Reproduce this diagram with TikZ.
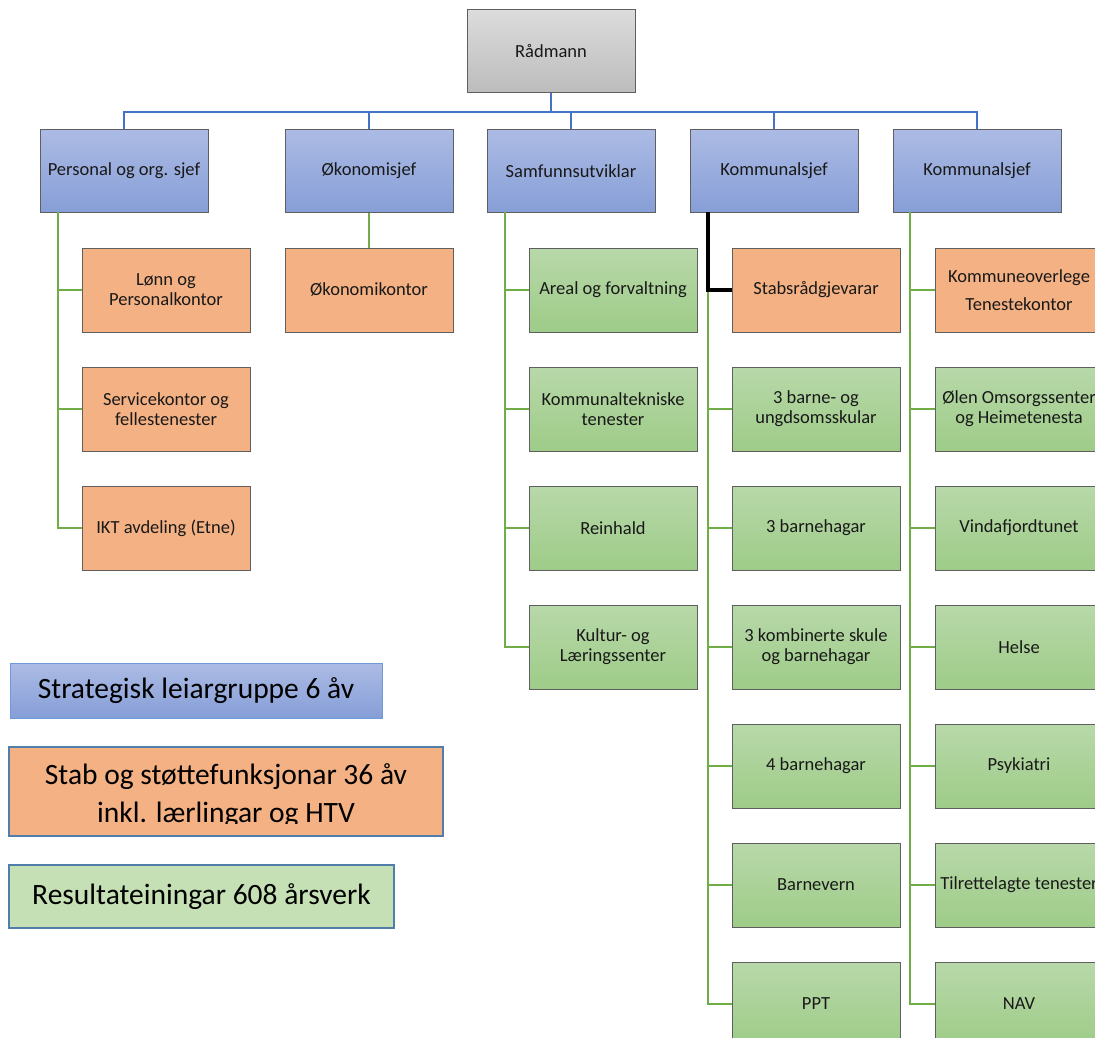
\documentclass[tikz,border=0pt]{standalone}
\usepackage{fontspec}
\setmainfont{Carlito}
\definecolor{blueTop}{RGB}{172,187,228}
\definecolor{blueBot}{RGB}{134,158,215}
\definecolor{grayTop}{RGB}{220,220,220}
\definecolor{grayBot}{RGB}{188,188,188}
\definecolor{orangeF}{RGB}{244,177,131}
\definecolor{greenTop}{RGB}{184,216,169}
\definecolor{greenBot}{RGB}{158,204,136}
\definecolor{legGreen}{RGB}{197,224,180}
\definecolor{boxLine}{RGB}{95,95,95}
\definecolor{blueLine}{RGB}{68,114,196}
\definecolor{greenLine}{RGB}{112,173,71}
\definecolor{legLine}{RGB}{80,125,170}
\definecolor{legLineA}{RGB}{110,155,215}
\tikzset{
  box/.style={rectangle, draw=boxLine, line width=1pt, minimum width=168pt, minimum height=83pt,
    inner sep=0pt, align=center, font=\fontsize{18.5}{20}\selectfont, text=black!90},
  bluebox/.style={box, top color=blueTop, bottom color=blueBot},
  graybox/.style={box, top color=grayTop, bottom color=grayBot},
  orangebox/.style={box, fill=orangeF, minimum height=84pt},
  greenbox/.style={box, top color=greenTop, bottom color=greenBot, minimum height=84pt},
  blueline/.style={draw=blueLine, line width=2pt},
  greenline/.style={draw=greenLine, line width=2pt},
  blackline/.style={draw=black, line width=4pt},
  legtext/.style={font=\fontsize{29.5}{38}\selectfont, align=center, text=black}
}
\begin{document}
\begin{tikzpicture}[x=1pt,y=-1pt]
\useasboundingbox (0,0) rectangle (1095,1038);

\coordinate (bus) at (551,112);
\coordinate (t1) at (58,212);
\coordinate (t3) at (505,212);
\coordinate (t4) at (708,212);
\coordinate (t5) at (910,212);

% top box
\node[graybox] (r) at (551,51.5) {Rådmann};

% row 1
\node[bluebox] (p1) at (124,171) {Personal og org. sjef};
\node[bluebox] (p2) at (369,171) {Økonomisjef};
\node[bluebox] (p3) at (571,171) {Samfunnsutviklar};
\node[bluebox] (p4) at (774,171) {Kommunalsjef};
\node[bluebox] (p5) at (977,171) {Kommunalsjef};

% column 1
\node[orangebox] (a1) at (166,290) {Lønn og\\Personalkontor};
\node[orangebox] (a2) at (166,409) {Servicekontor og\\fellestenester};
\node[orangebox] (a3) at (166,528) {IKT avdeling (Etne)};

% column 2
\node[orangebox] (b1) at (369,290) {Økonomikontor};

% column 3
\node[greenbox] (c1) at (613,290) {Areal og forvaltning};
\node[greenbox] (c2) at (613,409) {Kommunaltekniske\\tenester};
\node[greenbox] (c3) at (613,528) {Reinhald};
\node[greenbox] (c4) at (613,647) {Kultur- og\\Læringssenter};

% column 4
\node[orangebox] (d1) at (816,290) {Stabsrådgjevarar};
\node[greenbox] (d2) at (816,409) {3 barne- og\\ungdsomsskular};
\node[greenbox] (d3) at (816,528) {3 barnehagar};
\node[greenbox] (d4) at (816,647) {3 kombinerte skule\\og barnehagar};
\node[greenbox] (d5) at (816,766) {4 barnehagar};
\node[greenbox] (d6) at (816,885) {Barnevern};
\node[greenbox] (d7) at (816,1004) {PPT};

% column 5
\node[orangebox, font=\fontsize{18.5}{28}\selectfont] (e1) at (1019,290) {Kommuneoverlege\\Tenestekontor};
\node[greenbox] (e2) at (1019,409) {Ølen Omsorgssenter\\og Heimetenesta};
\node[greenbox] (e3) at (1019,528) {Vindafjordtunet};
\node[greenbox] (e4) at (1019,647) {Helse};
\node[greenbox] (e5) at (1019,766) {Psykiatri};
\node[greenbox] (e6) at (1019,885) {Tilrettelagte tenester};
\node[greenbox] (e7) at (1019,1004) {NAV};

% blue connectors
\draw[blueline] (r.south) -- (bus);
\draw[blueline] (p1.north) |- (bus) -| (p5.north);
\draw[blueline] (p2.north) -- (p2.north |- bus);
\draw[blueline] (p3.north) -- (p3.north |- bus);
\draw[blueline] (p4.north) -- (p4.north |- bus);

% green connectors
\draw[greenline] (t1) |- (a3.west);
\draw[greenline] (t1 |- a1.west) -- (a1.west);
\draw[greenline] (t1 |- a2.west) -- (a2.west);

\draw[greenline] (p2.south) -- (b1.north);

\draw[greenline] (t3) |- (c4.west);
\draw[greenline] (t3 |- c1.west) -- (c1.west);
\draw[greenline] (t3 |- c2.west) -- (c2.west);
\draw[greenline] (t3 |- c3.west) -- (c3.west);

\draw[greenline] (t4 |- d1.west) |- (d7.west);
\foreach \n in {d2,d3,d4,d5,d6}{\draw[greenline] (t4 |- \n.west) -- (\n.west);}
\draw[blackline] (t4) |- (d1.west);

\draw[greenline] (t5) |- (e7.west);
\foreach \n in {e1,e2,e3,e4,e5,e6}{\draw[greenline] (t5 |- \n.west) -- (\n.west);}

% legend
\node[draw=legLineA, line width=1pt, top color=blueTop, bottom color=blueBot,
      minimum width=372pt, minimum height=55pt, inner sep=0pt, legtext] (l1) at (196,690.5)
      {Strategisk leiargruppe 6 åv};
\node[draw=legLine, line width=1.6pt, fill=orangeF, minimum width=434pt, minimum height=89pt,
      inner sep=0pt] (l2) at (226,791.5) {};
\begin{scope}
  \clip (10,748) rectangle (442,823);
  \node[legtext] (l2t) at (226,796) {Stab og støttefunksjonar 36 åv\\inkl. lærlingar og HTV};
\end{scope}
\node[draw=legLine, line width=1.6pt, fill=legGreen, minimum width=385pt, minimum height=63pt,
      inner sep=0pt, legtext] (l3) at (201.5,896.5) {Resultateiningar 608 årsverk};
\end{tikzpicture}
\end{document}
